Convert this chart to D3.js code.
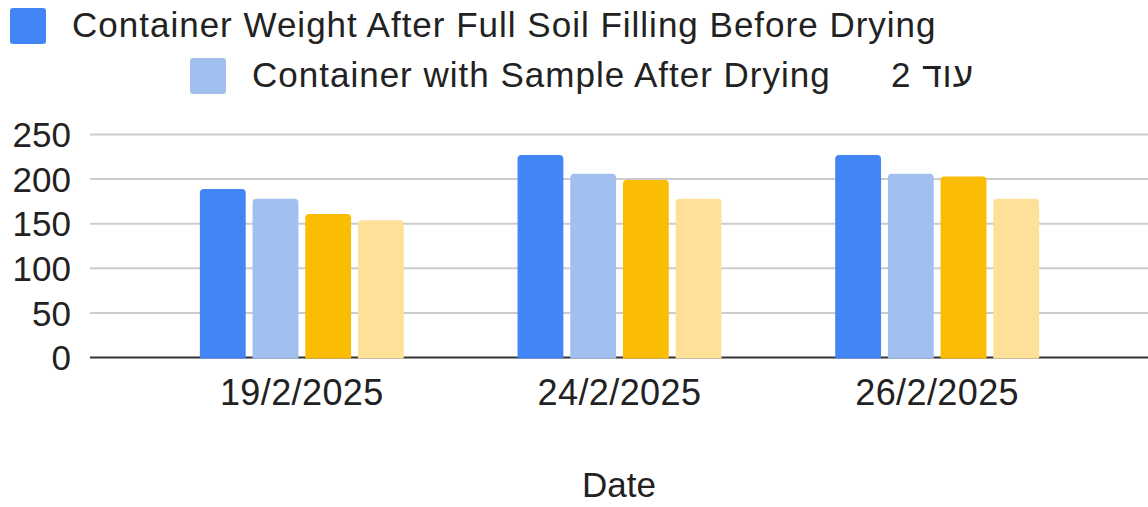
<!DOCTYPE html>
<html>
<head>
<meta charset="utf-8">
<script src="https://cdn.jsdelivr.net/npm/d3@7"></script>
<style>
    body { margin: 0; background: #fff; }
    svg { display: block; font-family: "Liberation Sans", Arial, sans-serif; }
    .tick_label { font-size: 35px; fill: #222; }
    .x_label { font-size: 36px; fill: #222; letter-spacing: 0.4px; }
    .legend_text { font-size: 35px; fill: #222; letter-spacing: 1px; }
</style>
</head>
<body>
<svg width="1148" height="507"></svg>
<script>
// chart data
const dates = ['19/2/2025', '24/2/2025', '26/2/2025'];
const seriesNames = [
    'Container Weight After Full Soil Filling Before Drying',
    'Container with Sample After Drying',
    'Series 3',
    'Series 4'
];
const fullBeforeDrying = [189, 227, 227];
const sampleAfterDrying = [178, 206, 206];
const series3 = [161, 199, 203];
const series4 = [154, 178, 178];
const yTicks = [0, 50, 100, 150, 200, 250];
const moreLabel = 'עוד 2';
const xTitle = 'Date';

const seriesColors = ['#4285f4', '#a1c0f0', '#fbbc04', '#fee099'];
const seriesValues = [fullBeforeDrying, sampleAfterDrying, series3, series4];

const svg = d3.select("svg");
const width = +svg.attr('width');
const height = +svg.attr('height');

const rows = dates.map((date, i) => ({
    date: date,
    values: seriesNames.map((name, s) => ({ name: name, value: seriesValues[s][i] }))
}));

const y = d3.scaleLinear().domain([0, 250]).range([357.5, 134.5]);

const x0 = d3.scaleBand()
    .domain(dates)
    .range([143, 1096])
    .paddingInner(0.358)
    .paddingOuter(0.179);

const x1 = d3.scaleBand()
    .domain(seriesNames)
    .range([0, x0.bandwidth()])
    .paddingInner(0.13);

const color = d3.scaleOrdinal().domain(seriesNames).range(seriesColors);

// bar with rounded top corners only
const topRounded = (x, yTop, w, yBottom, r) => {
    const rr = Math.min(r, (yBottom - yTop) / 2, w / 2);
    return `M${x},${yBottom}V${yTop + rr}Q${x},${yTop} ${x + rr},${yTop}` +
        `H${x + w - rr}Q${x + w},${yTop} ${x + w},${yTop + rr}V${yBottom}Z`;
};

// gridlines
svg.append("g")
    .selectAll("line").data(yTicks.filter(t => t > 0))
    .enter().append("line")
    .attr("x1", 90).attr("x2", width)
    .attr("y1", d => y(d)).attr("y2", d => y(d))
    .attr("stroke", "#cccccc").attr("stroke-width", 2);

// y tick labels
svg.append("g")
    .selectAll("text").data(yTicks)
    .enter().append("text")
    .attr("class", "tick_label")
    .attr("x", 71)
    .attr("y", d => y(d))
    .attr("dy", "0.36em")
    .attr("text-anchor", "end")
    .text(d => d);

// baseline
svg.append("line")
    .attr("x1", 90).attr("x2", width)
    .attr("y1", y(0)).attr("y2", y(0))
    .attr("stroke", "#333333").attr("stroke-width", 2);

// bars
const groups = svg.append("g")
    .selectAll("g").data(rows)
    .enter().append("g")
    .attr("transform", d => `translate(${x0(d.date)},0)`);

groups.selectAll("path").data(d => d.values)
    .enter().append("path")
    .attr("d", d => topRounded(x1(d.name), y(d.value), x1.bandwidth(), y(0) + 1, 4))
    .attr("fill", d => color(d.name));

// x tick labels
svg.append("g")
    .selectAll("text").data(dates)
    .enter().append("text")
    .attr("class", "x_label")
    .attr("x", d => x0(d) + x0.bandwidth() / 2)
    .attr("y", 405)
    .attr("text-anchor", "middle")
    .text(d => d);

// x axis title
svg.append("text")
    .attr("class", "tick_label")
    .attr("x", 619)
    .attr("y", 497)
    .attr("text-anchor", "middle")
    .text(xTitle);

// legend (first two series, rest collapsed)
const legendItems = [
    { name: seriesNames[0], x: 10, y: 8 },
    { name: seriesNames[1], x: 190, y: 58 }
];

const legend = svg.append("g")
    .selectAll("g").data(legendItems)
    .enter().append("g")
    .attr("transform", d => `translate(${d.x},${d.y})`);

legend.append("rect")
    .attr("width", 36).attr("height", 36)
    .attr("rx", 3)
    .attr("fill", d => color(d.name));

legend.append("text")
    .attr("class", "legend_text")
    .attr("x", 62)
    .attr("y", 29)
    .text(d => d.name);

svg.append("text")
    .attr("class", "legend_text")
    .attr("x", 891)
    .attr("y", 87)
    .text(moreLabel);
</script>
</body>
</html>
